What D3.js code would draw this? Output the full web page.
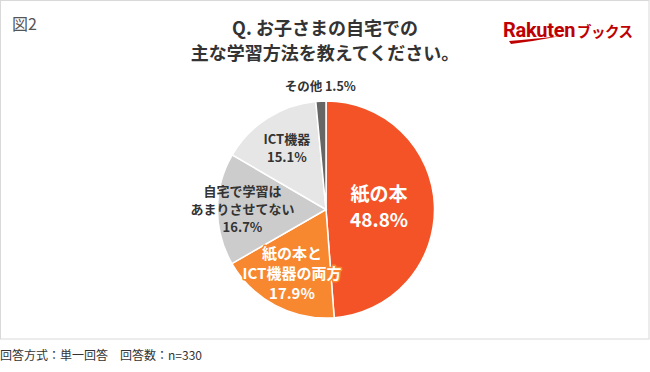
<!DOCTYPE html>
<html>
<head>
<meta charset="utf-8">
<script src="https://cdn.jsdelivr.net/npm/d3@7"></script>
<style>
  body { margin: 0; background: #fff; }
  svg { display: block; font-family: "Noto Sans CJK JP", "Noto Sans", sans-serif; }
</style>
</head>
<body>
<svg id="chart" width="650" height="372"></svg>
<script>
var categories = ["紙の本", "紙の本とICT機器の両方", "自宅で学習はあまりさせてない", "ICT機器", "その他"]
var values = [48.8, 17.9, 16.7, 15.1, 1.5]
var labelLines = [
  ["紙の本", "48.8%"],
  ["紙の本と", "ICT機器の両方", "17.9%"],
  ["自宅で学習は", "あまりさせてない", "16.7%"],
  ["ICT機器", "15.1%"],
  ["その他 1.5%"]
]
var sliceColors = ["#f35326", "#f7882f", "#cccccc", "#e6e6e6", "#666666"]
var titleLines = ["Q. お子さまの自宅での", "主な学習方法を教えてください。"]

var width = 650, height = 372,
cx = 326, cy = 209.5,
radius = 108.5

var svg = d3.select("#chart")

// frame
svg.append("rect")
.attr("x", 0.5).attr("y", 0.5)
.attr("width", 648.5).attr("height", 338.5)
.attr("fill", "none")
.attr("stroke", "#d9d9d9")

svg.append("text")
.attr("x", 12).attr("y", 30)
.attr("font-size", 16)
.attr("fill", "#555")
.text("図2")

svg.selectAll(".title")
.data(titleLines)
.enter().append("text")
.attr("class", "title")
.attr("x", 325)
.attr("y", function(d, i){ return 35 + i * 25 })
.attr("text-anchor", "middle")
.attr("font-size", 18)
.attr("font-weight", "bold")
.attr("fill", "#333")
.text(function(d){ return d })

// logo
var logo = svg.append("g").attr("transform", "translate(503,37)")
logo.append("text")
.attr("font-size", 20)
.attr("font-weight", "bold")
.attr("letter-spacing", -0.3)
.attr("fill", "#bf0000")
.attr("font-family", "Roboto, 'Liberation Sans', sans-serif")
.text("Rakuten")
logo.append("text")
.attr("x", 74)
.attr("font-size", 14.5)
.attr("font-weight", "bold")
.attr("letter-spacing", -0.5)
.attr("fill", "#bf0000")
.text("ブックス")
logo.append("path")
.attr("d", "M6,4 Q30,2 58,-1 Q32,4 8,7 Z")
.attr("fill", "#bf0000")

svg.append("text")
.attr("x", 0).attr("y", 360)
.attr("font-size", 12)
.attr("fill", "#333")
.text("回答方式：単一回答　回答数：n=330")

var pie = d3.pie().sort(null).value(function(d){ return d })
var arcs = pie(values)

var arc = d3.arc().innerRadius(0).outerRadius(radius)

var g = svg.append("g").attr("transform", "translate(" + cx + "," + cy + ")")

g.selectAll(".slice")
.data(arcs)
.enter().append("path")
.attr("class", "slice")
.attr("d", arc)
.attr("fill", function(d, i){ return sliceColors[i] })
.attr("stroke", "#fff")
.attr("stroke-width", 1.5)

// label placement: radius per slice, as a fraction of pie radius
var labelRadius = [0.49, 0.67, 0.77, 0.67, 1.13]
var labelSize = [19, 15, 13, 13, 12.5]
var labelLead = [26, 20, 18, 18, 0]
var labelFill = ["#fff", "#fff", "#333", "#333", "#333"]

arcs.forEach(function(a, i){
  var r = radius * labelRadius[i]
  var c = d3.arc().innerRadius(r).outerRadius(r).centroid(a)
  var lines = labelLines[i]
  var t = g.append("text")
  .attr("text-anchor", "middle")
  .attr("font-size", labelSize[i])
  .attr("font-weight", "bold")
  .attr("fill", labelFill[i])
  if (i == 1) {
    t.attr("stroke", sliceColors[1]).attr("stroke-width", 3)
    .attr("paint-order", "stroke").attr("stroke-linejoin", "round")
  }
  var off = -(lines.length - 1) * labelLead[i] / 2
  lines.forEach(function(s, j){
    t.append("tspan")
    .attr("x", c[0])
    .attr("y", c[1] + off + j * labelLead[i])
    .attr("dy", "0.35em")
    .text(s)
  })
})
</script>
</body>
</html>
